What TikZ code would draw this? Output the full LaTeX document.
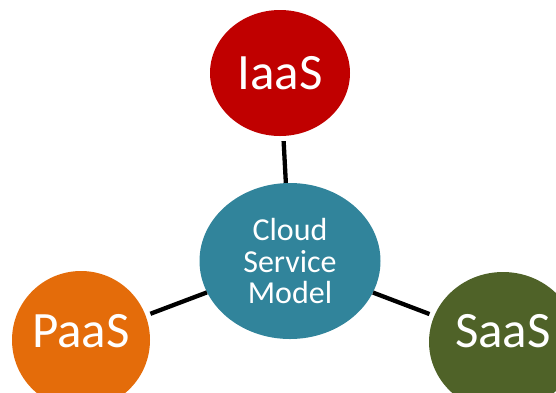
\documentclass[tikz,border=0pt]{standalone}
\usepackage{fontspec}
\setmainfont{Carlito}
\usetikzlibrary{shapes.geometric}
\definecolor{iaasred}{HTML}{C00000}
\definecolor{paasorange}{HTML}{E46C0A}
\definecolor{saasgreen}{HTML}{4F6228}
\definecolor{cloudteal}{HTML}{31849B}
\begin{document}
\begin{tikzpicture}[x=1pt,y=-1pt]
	\useasboundingbox (0,0) rectangle (556,392);
	\tikzstyle every node=[ellipse,inner sep=0pt,text=white]
	\tikzstyle svc=[font=\fontsize{51}{51}\selectfont]
	\tikzstyle link=[line width=4.3pt,shorten <=5pt]

	\node (c)[fill=cloudteal,minimum width=181pt,minimum height=156pt,align=center,
		font=\fontsize{32}{31.5}\selectfont] at (290,261) {Cloud\\Service\\Model};

	\node (i)[svc,fill=iaasred,minimum width=140pt,minimum height=126pt] at (280,73) {IaaS};
	\node (p)[svc,fill=paasorange,minimum width=138pt,minimum height=138pt,text depth=18pt] at (81,340) {PaaS};
	\node (s)[svc,fill=saasgreen,minimum width=148pt,minimum height=140pt,text depth=22pt] at (503,342) {SaaS};

	\draw[link] (i)--(c);
	\draw[link] (p)--(c);
	\draw[link] (s)--(c);
\end{tikzpicture}
\end{document}
